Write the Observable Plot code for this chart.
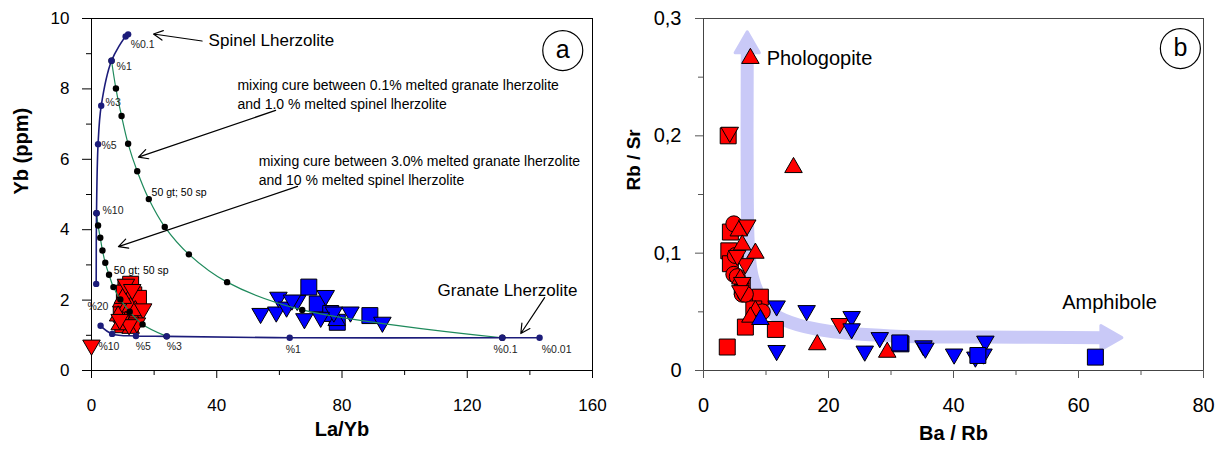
<!DOCTYPE html>
<html><head><meta charset="utf-8">
<script src="https://cdn.jsdelivr.net/npm/d3@7"></script>
<script src="https://cdn.jsdelivr.net/npm/@observablehq/plot@0.6"></script>
<style>
body{margin:0;background:#fff;}
#wrap{display:flex;width:1226px;height:455px;background:#fff;}
</style></head><body><div id="wrap"></div>
<script>
// ---------- Panel a data (La/Yb vs Yb) ----------
const spinelLaYb = [1.5, 1.6, 2.1, 3.1, 6.4, 10.9, 11.7];
const spinelYb   = [2.46, 4.47, 6.43, 7.52, 8.8, 9.49, 9.55];
const granateLaYb = [2.9, 6.6, 14.2, 24, 63.3, 131.2, 143.1];
const granateYb   = [1.27, 1.04, 0.98, 0.97, 0.93, 0.93, 0.93];
const mix1LaYb = [6.4, 7.8, 9.6, 11.7, 14.6, 18.3, 23.4, 31.1, 43.3, 67.3, 131.2];
const mix1Yb   = [8.8, 8.01, 7.23, 6.44, 5.66, 4.87, 4.08, 3.3, 2.51, 1.72, 0.93];
const mix2LaYb = [1.6, 2.1, 2.8, 3.5, 4.4, 5.6, 7.0, 9.2, 12.2, 16.3, 24];
const mix2Yb   = [4.47, 4.12, 3.77, 3.41, 3.06, 2.72, 2.37, 2.02, 1.67, 1.31, 0.97];
const meltLabels = ["%0.1", "%1", "%3", "%5", "%10", "%20", "%10", "%5", "%3", "%1", "%0.1", "%0.01"];
const meltLabelLaYb = [12.5, 8.0, 4.5, 3.2, 3.5, -1.3, 2.2, 14.1, 24, 62, 128.4, 143.8];
const meltLabelYb   = [9.26, 8.64, 7.61, 6.39, 4.55, 1.82, 0.68, 0.68, 0.68, 0.6, 0.6, 0.6];

const redSqA_x = [11, 12.5, 13.5, 14.5, 9.5, 12, 10, 13, 15, 10.5, 14];
const redSqA_y = [2.35, 2.45, 2.15, 1.95, 1.6, 1.45, 1.3, 1.75, 2.05, 2.2, 1.6];
const redUpA_x = [9.5, 10.5, 12.5, 11, 13.5, 8.5, 12.5, 10, 14, 9];
const redUpA_y = [1.95, 1.7, 1.8, 1.4, 1.45, 1.55, 1.2, 2.05, 1.7, 1.3];
const redDnA_x = [11, 16.5, 14.5, 12, 9, 13, 0];
const redDnA_y = [2.45, 1.75, 1.35, 1.3, 1.45, 2.3, 0.72];
const blueDnA_x = [54, 59, 59.7, 62.3, 65.7, 68, 74.8, 77.4, 82.7, 92.9, 73.2, 64];
const blueDnA_y = [1.62, 1.66, 2.08, 1.8, 1.99, 1.47, 2.13, 1.66, 1.66, 1.37, 1.51, 2.0];
const blueSqA_x = [69.4, 72.1, 78.5, 88.9, 76.4];
const blueSqA_y = [2.37, 1.89, 1.37, 1.56, 1.62];
const blueUpA_x = [78.3];
const blueUpA_y = [1.42];

// ---------- Panel b data (Ba/Rb vs Rb/Sr) ----------
const redCiB_x = [4.85, 5.1, 4.85, 6.2, 5.4, 6.7, 9.4];
const redCiB_y = [0.125, 0.098, 0.082, 0.065, 0.08, 0.065, 0.05];
const redSqB_x = [3.95, 4.3, 4.05, 8.3, 6.7, 11.5, 3.8, 9.1, 8.05, 4.3, 6.2];
const redSqB_y = [0.2, 0.118, 0.102, 0.06, 0.037, 0.035, 0.02, 0.0625, 0.0525, 0.091, 0.071];
const redUpB_x = [7.5, 14.4, 5.65, 8.3, 5.9, 8.3, 18.2, 29.4, 7.5, 6.2];
const redUpB_y = [0.266, 0.173, 0.119, 0.1, 0.078, 0.051, 0.022, 0.0156, 0.0455, 0.107];
const redDnB_x = [4.2, 7.0, 6.7, 6.2, 5.4, 21.8, 5.9];
const redDnB_y = [0.203, 0.124, 0.091, 0.075, 0.098, 0.04, 0.068];
const blueDnB_x = [11.7, 11.7, 16.5, 23.7, 23.7, 25.8, 28.2, 35.2, 35.5, 40.1, 43.5, 45.1, 44.8];
const blueDnB_y = [0.055, 0.017, 0.051, 0.046, 0.0355, 0.0165, 0.028, 0.021, 0.019, 0.014, 0.0114, 0.025, 0.014];
const blueSqB_x = [31.6, 31.4, 43.9, 62.7];
const blueSqB_y = [0.0227, 0.0235, 0.0128, 0.0114];
const blueUpB_x = [9.1];
const blueUpB_y = [0.0435];
const trendBaRb = [7.0, 7.0, 7.2, 7.8, 9, 10.7, 13.9, 20, 30, 45, 64];
const trendRbSr = [0.27, 0.15, 0.105, 0.08, 0.063, 0.05, 0.041, 0.0335, 0.0295, 0.0285, 0.028];

// ---------- Tick values ----------
const aXTicks = [0, 40, 80, 120, 160], aXMinor = [20, 60, 100, 140];
const aYTicks = [0, 2, 4, 6, 8, 10], aYMinor = [1, 3, 5, 7, 9];
const bXTicks = [0, 20, 40, 60, 80], bXMinor = [10, 30, 50, 70];
const bYTicks = [0, 0.1, 0.2, 0.3], bYMinor = [0.05, 0.15, 0.25];

// ---------- Annotations (data units) ----------
const annA = [
  {x: 37.4, y: 9.43, text: "Spinel Lherzolite", size: 17},
  {x: 110.5, y: 2.33, text: "Granate Lherzolite", size: 17},
  {x: 46.6, y: 7.88, text: "mixing cure between 0.1% melted granate lherzolite\nand 1.0 % melted spinel lherzolite", size: 14},
  {x: 53.4, y: 5.71, text: "mixing cure between 3.0% melted granate lherzolite\nand 10 % melted spinel lherzolite", size: 14},
  {x: 19.2, y: 5.09, text: "50 gt; 50 sp", size: 10.5},
  {x: 7.1, y: 2.87, text: "50 gt; 50 sp", size: 10.5}
];
const arrowsA = [
  {x1: 35.3, y1: 9.36, x2: 19.8, y2: 9.56},
  {x1: 58.8, y1: 7.39, x2: 15.0, y2: 6.06},
  {x1: 65.8, y1: 5.23, x2: 8.6, y2: 3.52},
  {x1: 144.7, y1: 2.07, x2: 137.1, y2: 1.05}
];
const annB = [
  {x: 10.1, y: 0.266, text: "Phologopite"},
  {x: 57.4, y: 0.058, text: "Amphibole"}
];

const FONT = "Arial, 'Liberation Sans', sans-serif";
const pts = (xs, ys) => xs.map((x, i) => ({x, y: ys[i]}));
const NAVY = "#1c1c7a", GREEN = "#1f8a5c", LAV = "#c9c9f7";
const marker = (xs, ys, shape, fill, extra = {}) => {
  const base = {x: "x", y: "y", fill, stroke: "black", strokeWidth: 1};
  if (shape === "square") return Plot.dot(pts(xs, ys), {...base, symbol: "square", r: 9, ...extra});
  if (shape === "circle") return Plot.dot(pts(xs, ys), {...base, symbol: "circle", r: 8, ...extra});
  if (shape === "up") return Plot.dot(pts(xs, ys), {...base, symbol: "triangle", r: 6.5, ...extra});
  return Plot.dot(pts(xs, ys), {...base, symbol: "triangle", r: 6.5, rotate: 180, ...extra});
};

const plotA = Plot.plot({
  width: 613, height: 455, marginLeft: 91, marginRight: 21, marginTop: 18, marginBottom: 85,
  x: {domain: [0, 160]}, y: {domain: [0, 10]},
  style: {fontFamily: FONT, fontSize: "17px", background: "white", color: "black", overflow: "visible"},
  marks: [
    Plot.frame({stroke: "black"}),
    Plot.axisX({ticks: aXTicks, tickSize: 8, tickPadding: 20, label: null, fontSize: 17}),
    Plot.axisX({ticks: aXMinor, tickSize: 5, tickFormat: () => "", label: null}),
    Plot.axisY({ticks: aYTicks, tickSize: 9, tickPadding: 13, label: null, fontSize: 17}),
    Plot.axisY({ticks: aYMinor, tickSize: 5, tickFormat: () => "", label: null}),
    Plot.text(["La/Yb"], {frameAnchor: "bottom", dy: 65, fontWeight: "bold", fontSize: 20}),
    Plot.text(["Yb (ppm)"], {frameAnchor: "left", dx: -70, rotate: -90, fontWeight: "bold", fontSize: 20}),
    marker(blueSqA_x, blueSqA_y, "square", "#0000ff"),
    marker(blueUpA_x, blueUpA_y, "up", "#0000ff"),
    marker(blueDnA_x, blueDnA_y, "down", "#0000ff"),
    marker(redSqA_x, redSqA_y, "square", "#ff0000"),
    marker(redUpA_x, redUpA_y, "up", "#ff0000"),
    marker(redDnA_x, redDnA_y, "down", "#ff0000"),
    Plot.line(pts(mix1LaYb, mix1Yb), {x: "x", y: "y", stroke: GREEN, strokeWidth: 1.2, curve: "catmull-rom"}),
    Plot.line(pts(mix2LaYb, mix2Yb), {x: "x", y: "y", stroke: GREEN, strokeWidth: 1.2, curve: "catmull-rom"}),
    Plot.line(pts(spinelLaYb, spinelYb), {x: "x", y: "y", stroke: NAVY, strokeWidth: 1.6, curve: "catmull-rom"}),
    Plot.line(pts(granateLaYb, granateYb), {x: "x", y: "y", stroke: NAVY, strokeWidth: 1.6, curve: "catmull-rom"}),
    Plot.dot(pts(mix1LaYb, mix1Yb), {x: "x", y: "y", r: 3.2, fill: "black"}),
    Plot.dot(pts(mix2LaYb, mix2Yb), {x: "x", y: "y", r: 3.2, fill: "black"}),
    Plot.dot(pts(spinelLaYb, spinelYb), {x: "x", y: "y", r: 3.2, fill: NAVY}),
    Plot.dot(pts(granateLaYb, granateYb), {x: "x", y: "y", r: 3.2, fill: NAVY}),
    Plot.text(meltLabels.map((t, i) => ({t, x: meltLabelLaYb[i], y: meltLabelYb[i]})),
      {x: "x", y: "y", text: "t", textAnchor: "start", fontSize: 10.5, fill: "#222"}),
    Plot.text(annA, {x: "x", y: "y", text: "text", fontSize: "size", textAnchor: "start", lineHeight: 1.35}),
    Plot.arrow(arrowsA, {x1: "x1", y1: "y1", x2: "x2", y2: "y2", stroke: "black", strokeWidth: 1.2, headLength: 13, headAngle: 55}),
    Plot.dot([{x: 150.5, y: 9.09}], {x: "x", y: "y", r: 20, fill: "white", stroke: "black", strokeWidth: 1.2}),
    Plot.text([{x: 150.5, y: 9.09}], {x: "x", y: "y", text: () => "a", fontSize: 25, dy: -1})
  ]
});

const plotB = Plot.plot({
  width: 613, height: 455, marginLeft: 90, marginRight: 23, marginTop: 18, marginBottom: 85,
  x: {domain: [0, 80]}, y: {domain: [0, 0.3]},
  style: {fontFamily: FONT, fontSize: "19px", background: "white", color: "black", overflow: "visible"},
  marks: [
    Plot.frame({stroke: "#444"}),
    Plot.axisX({ticks: bXTicks, tickSize: 8, tickPadding: 19, label: null, stroke: "#555", fontSize: 20}),
    Plot.axisX({ticks: bXMinor, tickSize: 5, tickFormat: () => "", label: null, stroke: "#555"}),
    Plot.axisY({ticks: bYTicks, tickSize: 8, tickPadding: 14, label: null, stroke: "#555", fontSize: 20,
      tickFormat: d => d === 0 ? "0" : d3.format(".1f")(d).replace(".", ",")}),
    Plot.axisY({ticks: bYMinor, tickSize: 5, tickFormat: () => "", label: null, stroke: "#555"}),
    Plot.text(["Ba / Rb"], {frameAnchor: "bottom", dy: 69, fontWeight: "bold", fontSize: 20}),
    Plot.text(["Rb / Sr"], {frameAnchor: "left", dx: -70, dy: -4, rotate: -90, fontWeight: "bold", fontSize: 19}),
    Plot.line(pts(trendBaRb, trendRbSr), {x: "x", y: "y", stroke: LAV, strokeWidth: 13, strokeLinecap: "round", strokeLinejoin: "round", curve: "catmull-rom"}),
    Plot.dot([{x: 7.0, y: 0.2768}], {x: "x", y: "y", symbol: "triangle", r: 9, fill: LAV, stroke: LAV, strokeWidth: 3, strokeLinejoin: "round"}),
    Plot.dot([{x: 64.7, y: 0.028}], {x: "x", y: "y", symbol: "triangle", r: 9, rotate: 90, fill: LAV, stroke: LAV, strokeWidth: 3, strokeLinejoin: "round"}),
    marker(redSqB_x, redSqB_y, "square", "#ff0000"),
    marker(redCiB_x, redCiB_y, "circle", "#ff0000"),
    marker(redUpB_x, redUpB_y, "up", "#ff0000"),
    marker(redDnB_x, redDnB_y, "down", "#ff0000"),
    marker(blueDnB_x, blueDnB_y, "down", "#0000ff"),
    marker(blueSqB_x, blueSqB_y, "square", "#0000ff"),
    marker(blueUpB_x, blueUpB_y, "up", "#0000ff"),
    Plot.text(annB, {x: "x", y: "y", text: "text", fontSize: 20, textAnchor: "start"}),
    Plot.dot([{x: 76.3, y: 0.2744}], {x: "x", y: "y", r: 20, fill: "white", stroke: "black", strokeWidth: 1.2}),
    Plot.text([{x: 76.3, y: 0.2744}], {x: "x", y: "y", text: () => "b", fontSize: 25, dy: -1})
  ]
});

document.getElementById("wrap").append(plotA, plotB);
</script></body></html>
